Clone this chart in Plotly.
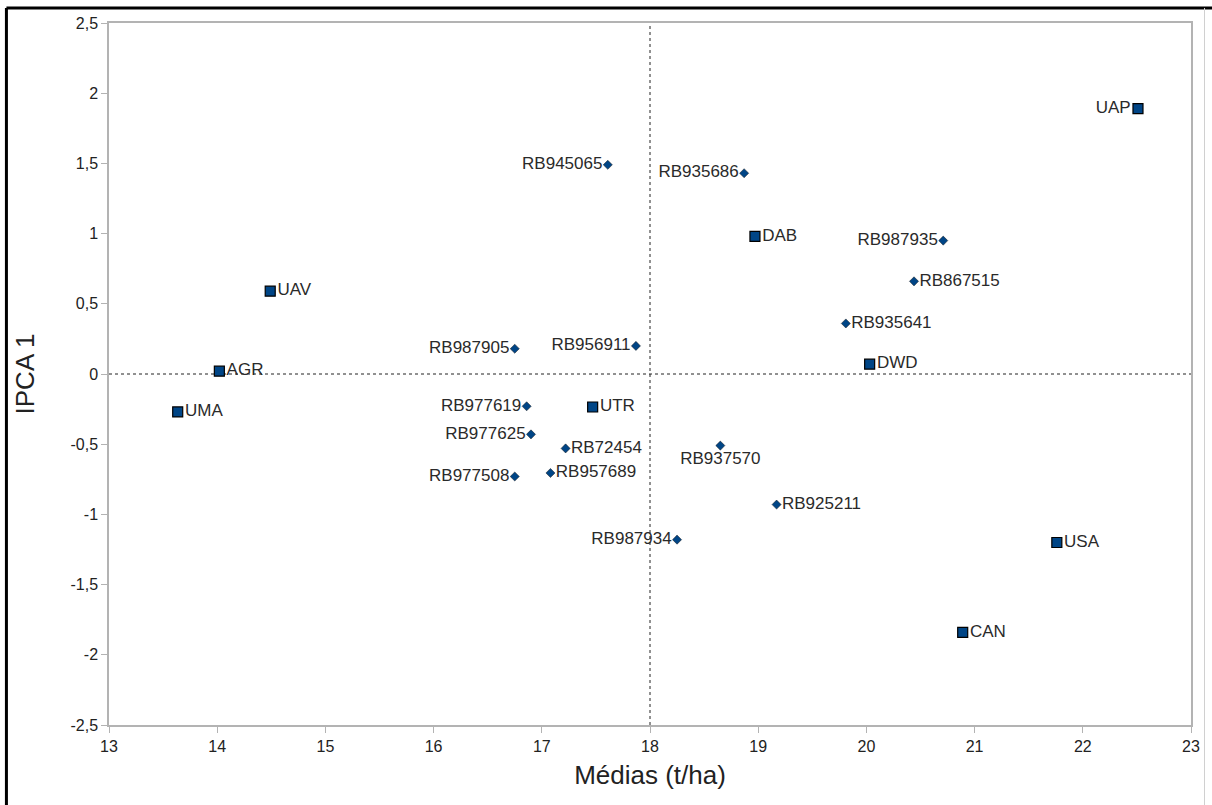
import plotly.graph_objects as go

# Environments (squares)
env_names = ["UAP", "DAB", "UAV", "AGR", "UMA", "UTR", "DWD", "USA", "CAN"]
env_mean = [22.51, 18.97, 14.49, 14.02, 13.635, 17.47, 20.03, 21.76, 20.89]
env_ipca = [1.89, 0.98, 0.59, 0.02, -0.27, -0.235, 0.07, -1.20, -1.84]
env_pos = ["middle left", "middle right", "middle right", "middle right", "middle right",
           "middle right", "middle right", "middle right", "middle right"]

# Genotypes (diamonds)
gen_names = ["RB945065", "RB935686", "RB987935", "RB867515", "RB935641", "RB987905",
             "RB956911", "RB977619", "RB977625", "RB72454", "RB977508", "RB957689",
             "RB937570", "RB925211", "RB987934"]
gen_mean = [17.61, 18.87, 20.71, 20.44, 19.81, 16.75, 17.87, 16.86, 16.90, 17.22,
            16.75, 17.08, 18.65, 19.17, 18.25]
gen_ipca = [1.49, 1.43, 0.95, 0.66, 0.36, 0.18, 0.20, -0.23, -0.43, -0.53, -0.73,
            -0.705, -0.51, -0.93, -1.18]
gen_pos = ["middle left", "middle left", "middle left", "middle right", "middle right",
           "middle left", "middle left", "middle left", "middle left", "middle right",
           "middle left", "middle right", "bottom center", "middle right", "middle left"]

x_ticks = list(range(13, 24))
y_ticks = [-2.5, -2, -1.5, -1, -0.5, 0, 0.5, 1, 1.5, 2, 2.5]
y_ticktext = ["-2,5", "-2", "-1,5", "-1", "-0,5", "0", "0,5", "1", "1,5", "2", "2,5"]

FONT = "Liberation Sans, Arial, sans-serif"
MARK = "#004586"
GRID = "#b3b3b3"
LABEL = "#2a2a2a"

fig = go.Figure()

fig.add_trace(go.Scatter(
    x=gen_mean, y=gen_ipca, mode="markers+text", text=gen_names,
    textposition=gen_pos,
    textfont=dict(family=FONT, size=17, color=LABEL),
    marker=dict(symbol="diamond", size=7, color=MARK, line=dict(color="#1a1a1a", width=0.5)),
    showlegend=False, cliponaxis=False,
))
fig.add_trace(go.Scatter(
    x=env_mean, y=env_ipca, mode="markers+text", text=env_names,
    textposition=env_pos,
    textfont=dict(family=FONT, size=17, color=LABEL),
    marker=dict(symbol="square", size=10, color=MARK, line=dict(color="#000000", width=1.2)),
    showlegend=False, cliponaxis=False,
))

# Quadrant reference lines at the overall mean and IPCA = 0
fig.add_shape(type="line", xref="x", yref="paper", x0=18, x1=18, y0=0, y1=1,
              line=dict(color="#222222", width=1, dash="dot"), layer="below")
fig.add_shape(type="line", xref="paper", yref="y", x0=0, x1=1, y0=0, y1=0,
              line=dict(color="#222222", width=1, dash="dot"), layer="below")

# Outer frame around the chart
fig.add_shape(type="line", xref="paper", yref="paper", x0=-0.0948, x1=1.02, y0=1.0214, y1=1.0214,
              line=dict(color="#000000", width=3))
fig.add_shape(type="line", xref="paper", yref="paper", x0=-0.0948, x1=-0.0948, y0=-0.2, y1=1.0214,
              line=dict(color="#000000", width=3))
fig.add_shape(type="line", xref="paper", yref="paper", x0=1.0125, x1=1.0125, y0=-0.2, y1=1.0214,
              line=dict(color="#d0d0d0", width=1))

axis_common = dict(
    showgrid=False, zeroline=False, showline=True, linecolor=GRID, linewidth=1.5,
    mirror=True, ticks="outside", ticklen=6, tickcolor=GRID, tickwidth=1,
    tickfont=dict(family=FONT, size=16, color="#222222"),
)

fig.update_layout(
    width=1212, height=805,
    margin=dict(l=109, r=17, t=23, b=80),
    paper_bgcolor="white", plot_bgcolor="white",
    xaxis=dict(range=[13, 23], tickvals=x_ticks, ticktext=[str(v) for v in x_ticks],
               title=dict(text="Médias (t/ha)", font=dict(family=FONT, size=26, color="#222222"),
                          standoff=12),
               **axis_common),
    yaxis=dict(range=[-2.5, 2.5], tickvals=y_ticks, ticktext=y_ticktext,
               title=dict(text="IPCA 1", font=dict(family=FONT, size=26, color="#222222"),
                          standoff=28),
               **axis_common),
)

fig.write_html("out.html")
